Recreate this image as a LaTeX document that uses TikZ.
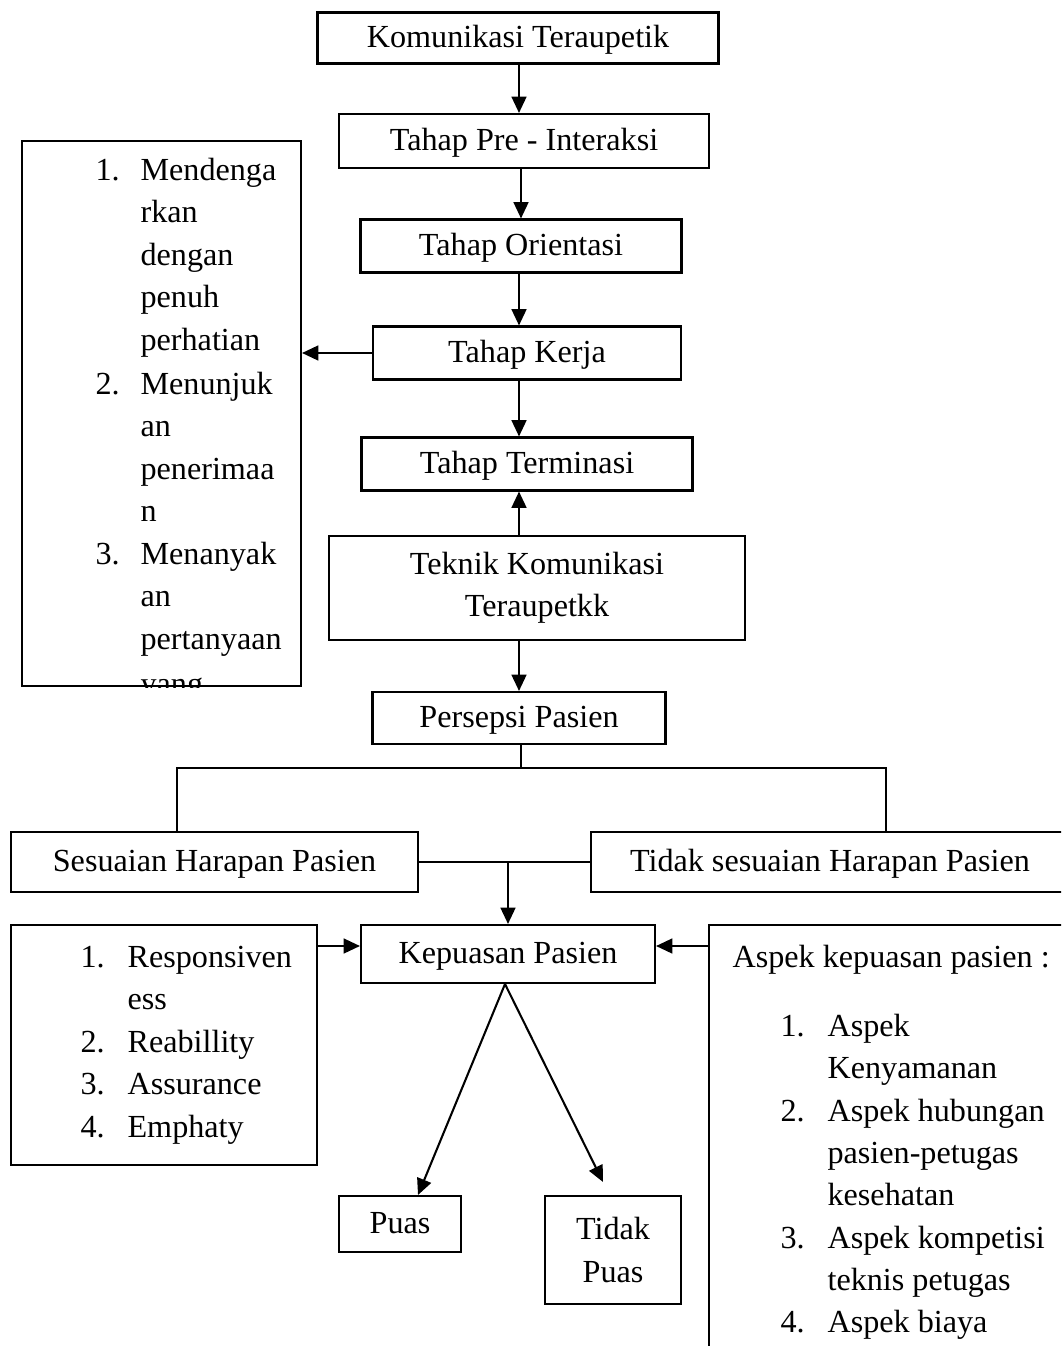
\documentclass[tikz,border=0pt]{standalone}
\usepackage{fontspec}
\setmainfont{Liberation Serif}
\usetikzlibrary{arrows.meta,calc}
\newcommand{\pxl}{0.3389pt}
\tikzset{
  boxbase/.style={draw, line width=0.7pt, inner sep=0pt, align=center},
  box/.style={boxbase, text height=0.8em, text depth=0.15em},
  sz/.style 2 args={minimum width=#1*\pxl, minimum height=#2*\pxl},
  arr/.style={line width=0.7pt, -{Triangle[length=5.5pt,width=5pt]}},
  ln/.style={line width=0.6pt},
  item/.style={anchor=base west, inner sep=0pt},
}
\begin{document}
\begin{tikzpicture}[x=\pxl, y=-\pxl, font=\fontsize{10.9}{14.4}\selectfont]
  \useasboundingbox (0,0) rectangle (1061,1346);
  \clip (0,0) rectangle (1061,1346);
  % alur tahap
  \node[box, sz={401}{51}] (komunikasi) at (518,38) {Komunikasi Teraupetik};
  \node[box, sz={370}{54}] (preinteraksi) at (524,141) {Tahap Pre - Interaksi};
  \node[box, sz={321}{53}] (orientasi) at (521,246) {Tahap Orientasi};
  \node[box, sz={308}{53}] (kerja) at (527,353) {Tahap Kerja};
  \node[box, sz={331}{53}] (terminasi) at (527,464) {Tahap Terminasi};
  \node[boxbase, sz={416}{104}] (teknik) at (537,588) {Teknik Komunikasi\\Teraupetkk};
  \node[box, sz={293}{52}] (persepsi) at (519,718) {Persepsi Pasien};
  \node[boxbase, sz={279}{545}] (listkerja) at (161.5,413.5) {};
  % isi kotak kiri atas
  \begin{scope}
    \clip (listkerja.north west) rectangle (listkerja.south east);
    \foreach \yy/\nr in {181/1., 394/2., 564/3.}
      \node[item] at (95,\yy) {\nr};
    \foreach \yy/\txt in {181/Mendenga, 223/rkan, 266/dengan, 308/penuh,
        351/perhatian, 394/Menunjuk, 436/an, 479/penerimaa, 521/n,
        564/Menanyak, 606/an, 649/pertanyaan, 694/yang}
      \node[item] at (140,\yy) {\txt};
  \end{scope}
  \draw[arr] (519,0 |- komunikasi.south) -- (519,0 |- preinteraksi.north);
  \draw[arr] (521,0 |- preinteraksi.south) -- (521,0 |- orientasi.north);
  \draw[arr] (519,0 |- orientasi.south) -- (519,0 |- kerja.north);
  \draw[arr] (kerja.west) -- (kerja.west -| listkerja.east);
  \draw[arr] (519,0 |- kerja.south) -- (519,0 |- terminasi.north);
  \draw[arr] (519,0 |- teknik.north) -- (519,0 |- terminasi.south);
  \draw[arr] (519,0 |- teknik.south) -- (519,0 |- persepsi.north);
  % harapan pasien
  \node[box, sz={407}{60}] (sesuaian) at (214.5,862) {Sesuaian Harapan Pasien};
  \node[box, sz={478}{60}] (tidaksesuai) at (830,862) {Tidak sesuaian Harapan Pasien};
  \coordinate (cabang) at (521,768);
  \draw[ln] (521,0 |- persepsi.south) -- (cabang);
  \draw[ln] (177,0 |- sesuaian.north) |- (cabang) -| (886,0 |- tidaksesuai.north);
  \draw[ln] (sesuaian.east) -- (tidaksesuai.west);
  % kepuasan
  \node[box, sz={294}{58}] (kepuasan) at (508,954) {Kepuasan Pasien};
  \draw[arr] (sesuaian.east -| kepuasan.north) -- (kepuasan.north);
  \node[boxbase, sz={306}{240}] (dimensi) at (164,1045) {};
  \foreach \yy/\nr in {967/1., 1052/2., 1094/3., 1137/4.}
    \node[item] at (80,\yy) {\nr};
  \foreach \yy/\txt in {967/Responsiven, 1009/ess, 1052/Reabillity,
      1094/Assurance, 1137/Emphaty}
    \node[item] at (127,\yy) {\txt};
  \node[boxbase, sz={411}{475}] (aspek) at (914.5,1162.5) {};
  \node[item] at (732,967) {Aspek kepuasan pasien :};
  \foreach \yy/\nr in {1036/1., 1121/2., 1248/3., 1332/4.}
    \node[item] at (780,\yy) {\nr};
  \foreach \yy/\txt in {1036/Aspek, 1078/Kenyamanan, 1121/Aspek hubungan,
      1163/pasien-petugas, 1205/kesehatan, 1248/Aspek kompetisi,
      1290/teknis petugas, 1332/Aspek biaya}
    \node[item] at (827,\yy) {\txt};
  \draw[arr] (dimensi.east |- 0,946) -- (kepuasan.west |- 0,946);
  \draw[arr] (aspek.west |- 0,946) -- (kepuasan.east |- 0,946);
  % hasil
  \node[box, sz={122}{56}] (puas) at (400,1224) {Puas};
  \node[boxbase, sz={136}{108}] (tidakpuas) at (613,1250) {Tidak\\Puas};
  \draw[arr] (505,0 |- kepuasan.south) -- ($(puas.north)+(18,0)$);
  \draw[arr] (505,0 |- kepuasan.south) -- ($(tidakpuas.north)+(-10,-13)$);
\end{tikzpicture}
\end{document}
